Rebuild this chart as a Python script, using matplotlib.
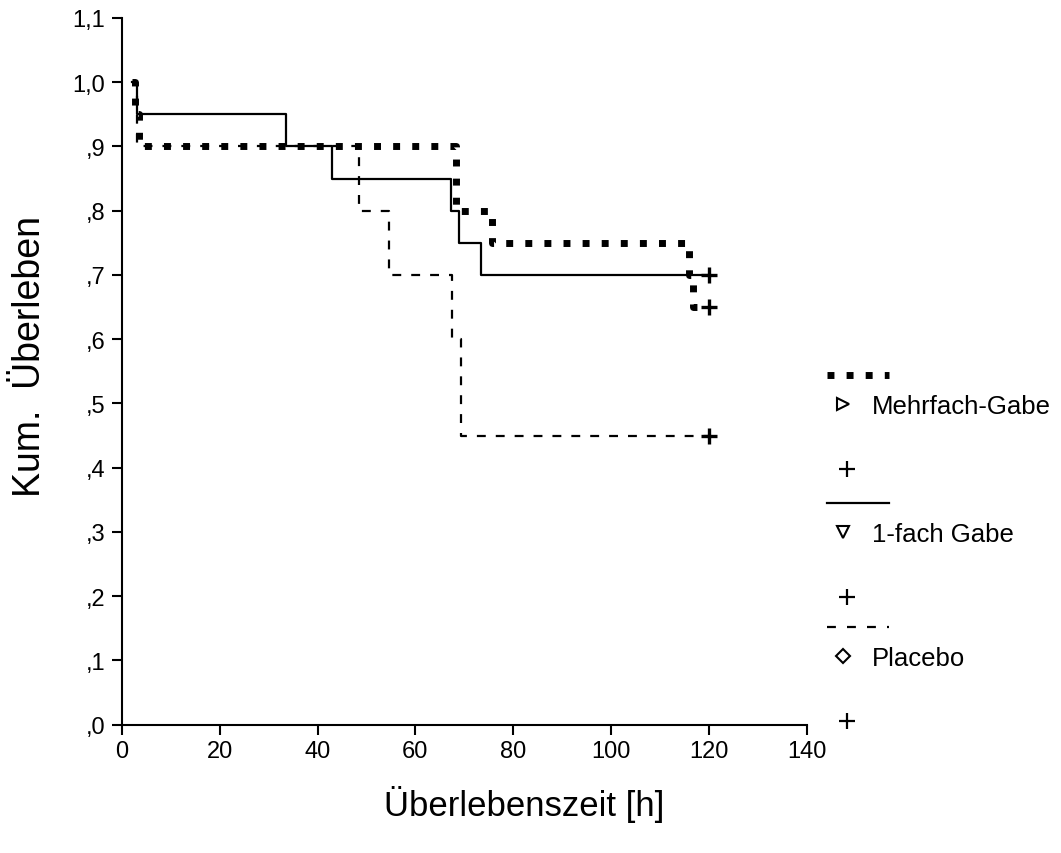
import matplotlib.pyplot as plt
from matplotlib.lines import Line2D

plt.rcParams['font.family'] = ['Liberation Sans', 'DejaVu Sans']

# Kaplan-Meier step data (time in h, cumulative survival)
mehr_t = [2.0, 2.6, 3.4, 68.4, 75.6, 115.9, 116.7, 120.0]
mehr_s = [1.00, 0.95, 0.90, 0.80, 0.75, 0.70, 0.65, 0.65]

einfach_t = [2.0, 3.0, 33.5, 43.0, 67.2, 68.9, 73.4, 120.0]
einfach_s = [1.00, 0.95, 0.90, 0.85, 0.80, 0.75, 0.70, 0.70]

placebo_t = [2.0, 3.0, 48.4, 54.6, 67.5, 69.4, 120.0]
placebo_s = [1.00, 0.90, 0.80, 0.70, 0.60, 0.45, 0.45]

# censored observations
cens_t = [120.0, 120.0, 120.0]
cens_s = [0.65, 0.70, 0.45]

x_ticks = [0, 20, 40, 60, 80, 100, 120, 140]
y_ticks = [0.0, 0.1, 0.2, 0.3, 0.4, 0.5, 0.6, 0.7, 0.8, 0.9, 1.0, 1.1]
y_labels = [',0', ',1', ',2', ',3', ',4', ',5', ',6', ',7', ',8', ',9', '1,0', '1,1']

groups = ['Mehrfach-Gabe', '1-fach Gabe', 'Placebo']

W, H = 1061, 854
fig = plt.figure(figsize=(W / 100, H / 100), dpi=100)
ax = fig.add_axes([122 / W, 1 - 725.7 / H, (806.5 - 122) / W, (725.7 - 19) / H])

dotted = (0, (1, 1.75))
dashed = (0, (4, 4.5))

ax.step(placebo_t, placebo_s, where='post', color='black', lw=1.6, linestyle=dashed)
ax.step(einfach_t, einfach_s, where='post', color='black', lw=1.6)
ax.step(mehr_t, mehr_s, where='post', color='black', lw=5, linestyle=dotted)
ax.plot(cens_t, cens_s, linestyle='none', marker='+', color='black', ms=12, mew=2.4)

ax.set_xlim(0, 140)
ax.set_ylim(0, 1.1)
ax.set_xticks(x_ticks)
ax.set_yticks(y_ticks)
ax.set_yticklabels(y_labels)
ax.tick_params(axis='both', labelsize=17, width=1.5, length=7, direction='out')
ax.tick_params(axis='y', pad=5)
ax.tick_params(axis='x', pad=4)
for side in ['top', 'right']:
    ax.spines[side].set_visible(False)
for side in ['left', 'bottom']:
    ax.spines[side].set_linewidth(1.5)

fig.text(524 / W, 1 - 805 / H, 'Überlebenszeit [h]', fontsize=25, ha='center', va='center')
fig.text(30 / W, 1 - 357 / H, 'Kum.  Überleben', fontsize=27, ha='center', va='center',
         rotation=90)


# legend built by hand in pixel positions
def fx(x):
    return x / W


def fy(y):
    return 1 - y / H


def leg_line(y, **kw):
    fig.add_artist(Line2D([fx(827), fx(889)], [fy(y), fy(y)], color='black',
                          transform=fig.transFigure, **kw))


def leg_marker(x, y, m, **kw):
    fig.add_artist(Line2D([fx(x)], [fy(y)], marker=m, color='black', linestyle='none',
                          transform=fig.transFigure, **kw))


leg_y = [376, 504, 628]
leg_styles = [dict(lw=5, linestyle=dotted), dict(lw=1.6), dict(lw=1.6, linestyle=(0, (4, 5)))]
leg_marks = ['>', 'v', 'D']
for i, name in enumerate(groups):
    y0 = leg_y[i]
    leg_line(y0, **leg_styles[i])
    ms = 7 if leg_marks[i] == 'D' else 8
    leg_marker(843, y0 + 29, leg_marks[i], ms=ms, mfc='white', mew=1.5)
    fig.text(fx(872), fy(y0 + 31), name, fontsize=18.5, ha='left', va='center')
    leg_marker(847, y0 + 94, '+', ms=11, mew=1.6)

fig.savefig('out.png', dpi=100)
